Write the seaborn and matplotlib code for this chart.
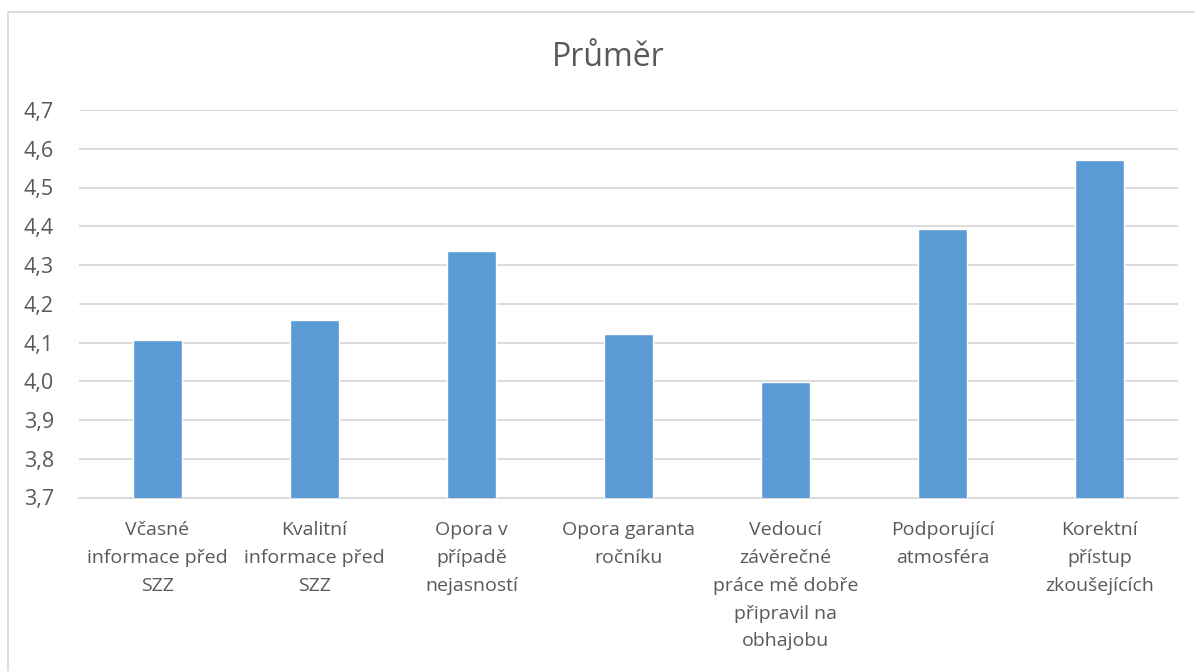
import matplotlib
matplotlib.use("Agg")
import matplotlib.pyplot as plt
import seaborn as sns
from matplotlib.ticker import FuncFormatter, MultipleLocator
from matplotlib.patches import Rectangle

categories = [
    "Včasné\ninformace před\nSZZ",
    "Kvalitní\ninformace před\nSZZ",
    "Opora v\npřípadě\nnejasností",
    "Opora garanta\nročníku",
    "Vedoucí\nzávěrečné\npráce mě dobře\npřipravil na\nobhajobu",
    "Podporující\natmosféra",
    "Korektní\npřístup\nzkoušejících",
]
values = [4.107, 4.159, 4.337, 4.123, 3.999, 4.392, 4.570]
title = "Průměr"

sns.set_theme(style="white")
plt.rcParams["font.family"] = ["Open Sans", "DejaVu Sans"]

text_color = "#595959"
grid_color = "#d9d9d9"
bar_color = "#5B9BD5"

fig = plt.figure(figsize=(11.95, 6.71), dpi=100)
ax = fig.add_axes([79 / 1195, 1 - 497.5 / 671, (1178 - 79) / 1195, (497.5 - 110) / 671])

sns.barplot(x=list(range(len(values))), y=values, color=bar_color, width=0.31,
            saturation=1, ax=ax, zorder=3)

ax.set_ylim(3.7, 4.7)
ax.set_xlim(-0.5, len(values) - 0.5)
ax.yaxis.set_major_locator(MultipleLocator(0.1))
ax.yaxis.set_major_formatter(FuncFormatter(lambda v, p: f"{v:.1f}".replace(".", ",")))
ax.set_xticks(range(len(categories)))
ax.set_xticklabels(categories, fontsize=14, color=text_color, linespacing=1.7)
ax.tick_params(axis="y", labelsize=15.5, labelcolor=text_color, length=0, pad=18)
ax.tick_params(axis="x", length=0, pad=17)
for lbl in ax.get_xticklabels():
    lbl.set_verticalalignment("top")

ax.grid(axis="y", color=grid_color, linewidth=1.3, zorder=0)
ax.grid(axis="x", visible=False)
for s in ["top", "right", "left"]:
    ax.spines[s].set_visible(False)
ax.spines["bottom"].set_color(grid_color)
ax.spines["bottom"].set_linewidth(1.3)
ax.set_xlabel("")
ax.set_ylabel("")

fig.text(608 / 1195, 1 - 57 / 671, title, ha="center", va="center",
         fontsize=23, color=text_color)

# chart frame
fig.patches.append(Rectangle((8 / 1195, -0.05), 1.1, 1 - 12 / 671 + 0.05,
                             transform=fig.transFigure, fill=False,
                             edgecolor=grid_color, linewidth=1.3))

fig.savefig("out.png", dpi=100, facecolor="white")
